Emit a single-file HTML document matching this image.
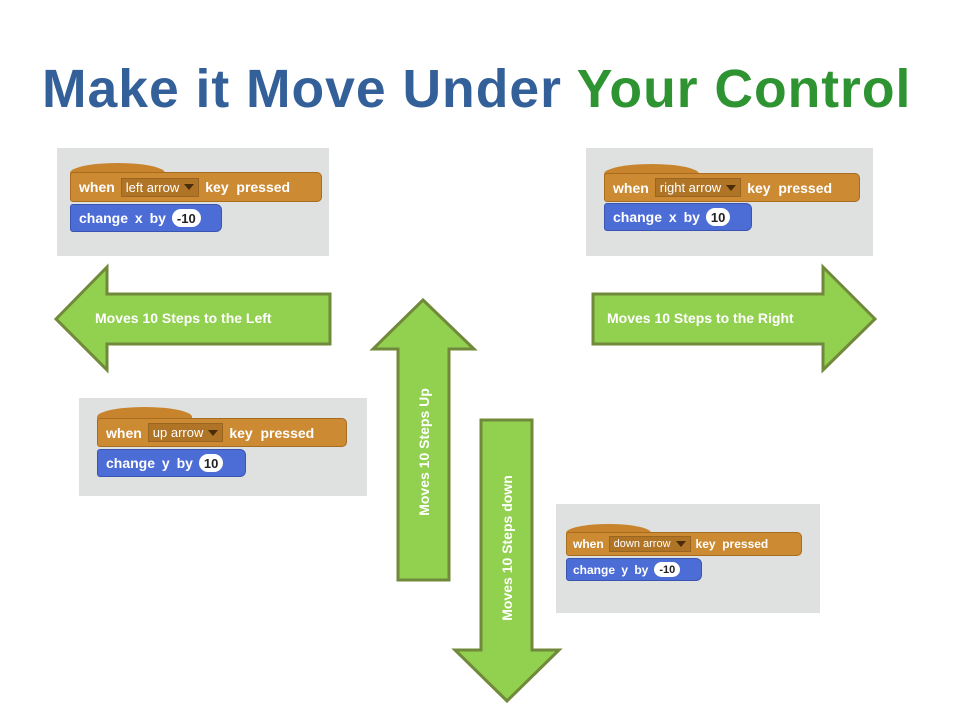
<!DOCTYPE html>
<html><head><meta charset="utf-8"><style>
*{margin:0;padding:0;box-sizing:border-box}
body{width:960px;height:720px;background:#fff;position:relative;overflow:hidden;font-family:"Liberation Sans",sans-serif}
.title{position:absolute;left:42px;top:58px;font-size:54px;font-weight:bold;white-space:nowrap;letter-spacing:1px;transform-origin:0 0;transform:scaleX(0.99)}
.panel{position:absolute;background:#dfe0e0}
.hump{position:absolute;background:#c8842c;border-radius:50% 50% 0 0}
.hat{position:absolute;background:#cc8a32;border:1px solid #a86c20;border-radius:3px 5px 5px 3px;display:flex;align-items:center;color:#fff;font-weight:bold;font-size:14px;padding-left:8px;white-space:nowrap}
.dd{background:#b07426;border:1px solid #9a6520;color:#fff;font-weight:normal;font-size:13px;padding:1px 4px;margin:0 6px;height:19px;display:flex;align-items:center}
.dd:after{content:"";border-left:5px solid transparent;border-right:5px solid transparent;border-top:6px solid #4a2c08;margin-left:5px}
.blue{position:absolute;background:#4c6cd6;border:1px solid #3a55b0;border-radius:3px 6px 6px 3px;display:flex;align-items:center;color:#fff;font-weight:bold;font-size:14px;padding-left:8px;white-space:nowrap;word-spacing:3px}
.num{background:#fff;color:#222;border-radius:10px;padding:0 5px;margin-left:6px;font-size:13px;height:18px;display:flex;align-items:center}
.atext{position:absolute;color:#fff;font-weight:bold;font-size:14px;white-space:nowrap}
</style></head><body>
<div class="title"><span style="color:#34609a">Make it Move Under </span><span style="color:#2e9432">Your Control</span></div>

<svg width="960" height="720" style="position:absolute;left:0;top:0">
<g fill="#92d050" stroke="#71893a" stroke-width="3">
<polygon points="56,319 107,267 107,294 330,294 330,344 107,344 107,370"/>
<polygon points="593,294 823,294 823,267 875,319 823,370 823,344 593,344"/>
<polygon points="423,300 474,349 449,349 449,580 398,580 398,349 373,349"/>
<polygon points="481,420 532,420 532,650 559,650 507,701 455,650 481,650"/>
</g>
</svg>
<div class="atext" style="left:95px;top:310px">Moves 10 Steps to the Left</div>
<div class="atext" style="left:607px;top:310px">Moves 10 Steps to the Right</div>
<div class="atext" style="left:424px;top:452px;transform:translate(-50%,-50%) rotate(-90deg)">Moves 10 Steps Up</div>
<div class="atext" style="left:507px;top:548px;transform:translate(-50%,-50%) rotate(-90deg)">Moves 10 Steps down</div>

<div class="panel" style="left:57px;top:148px;width:272px;height:108px"></div>
<div class="hump" style="left:70px;top:163px;width:95px;height:20px"></div>
<div class="hat" style="left:70px;top:172px;width:252px;height:30px">when<span class="dd">left arrow</span>key&nbsp; pressed</div>
<div class="blue" style="left:70px;top:204px;width:152px;height:28px">change x by<span class="num">-10</span></div>

<div class="panel" style="left:586px;top:148px;width:287px;height:108px"></div>
<div class="hump" style="left:604px;top:164px;width:95px;height:20px"></div>
<div class="hat" style="left:604px;top:173px;width:256px;height:29px">when<span class="dd">right arrow</span>key&nbsp; pressed</div>
<div class="blue" style="left:604px;top:203px;width:148px;height:28px">change x by<span class="num">10</span></div>

<div class="panel" style="left:79px;top:398px;width:288px;height:98px"></div>
<div class="hump" style="left:97px;top:407px;width:95px;height:20px"></div>
<div class="hat" style="left:97px;top:418px;width:250px;height:29px">when<span class="dd">up arrow</span>key&nbsp; pressed</div>
<div class="blue" style="left:97px;top:449px;width:149px;height:28px">change y by<span class="num">10</span></div>

<div class="panel" style="left:556px;top:504px;width:264px;height:109px"></div>
<div class="hump" style="left:566px;top:524px;width:85px;height:18px"></div>
<div class="hat" style="left:566px;top:532px;width:236px;height:24px;font-size:12px;padding-left:6px">when<span class="dd" style="font-size:11px;height:16px;margin:0 5px">down arrow</span>key&nbsp; pressed</div>
<div class="blue" style="left:566px;top:558px;width:136px;height:23px;font-size:12px;padding-left:6px">change y by<span class="num" style="font-size:11px;height:15px">-10</span></div>
</body></html>
